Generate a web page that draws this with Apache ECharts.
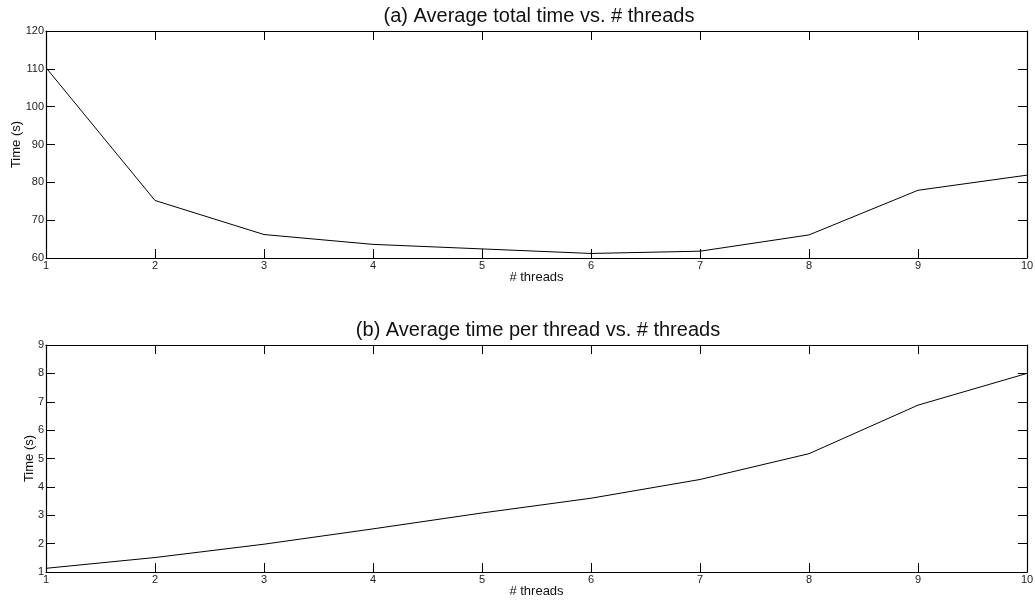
<!DOCTYPE html>
<html>
<head>
<meta charset="utf-8">
<script src="https://cdn.jsdelivr.net/npm/echarts@6/dist/echarts.min.js"></script>
<style>
  html, body { margin: 0; padding: 0; background: #fff; }
  #chart { width: 1035px; height: 600px; }
</style>
</head>
<body>
<div id="chart"></div>
<script>
let threads = [1, 2, 3, 4, 5, 6, 7, 8, 9, 10];
let totalTime = [110.3, 75.2, 66.2, 63.6, 62.4, 61.2, 61.8, 66.1, 77.9, 81.9];
let perThreadTime = [1.13, 1.51, 1.98, 2.52, 3.08, 3.6, 4.26, 5.17, 6.88, 8.0];

let dom = document.getElementById("chart");
let chart = echarts.init(dom);

let font = 'Liberation Sans, Arial, Helvetica, sans-serif';

function pairs(xs, ys) {
    return xs.map(function (x, i) { return [x, ys[i]]; });
}

function bottomAxis(grid) {
    return {
        type: 'value',
        gridIndex: grid,
        min: 1,
        max: 10,
        interval: 1,
        name: '# threads',
        nameLocation: 'middle',
        nameGap: 13,
        nameMoveOverlap: false,
        nameTextStyle: { fontFamily: font, fontSize: 13, color: '#111' },
        axisLine: { lineStyle: { color: '#000', width: 1.2 } },
        axisTick: { inside: true, length: 9, lineStyle: { color: '#000' } },
        axisLabel: { fontFamily: font, fontSize: 11, color: '#222', margin: 2 },
        splitLine: { show: false }
    };
}

function topAxis(grid) {
    return {
        type: 'value',
        gridIndex: grid,
        position: 'top',
        min: 1,
        max: 10,
        interval: 1,
        axisLine: { lineStyle: { color: '#000', width: 1.2 } },
        axisTick: { inside: true, length: 9, lineStyle: { color: '#000' } },
        axisLabel: { show: false },
        splitLine: { show: false }
    };
}

function leftAxis(grid, min, max, step, gap) {
    return {
        type: 'value',
        gridIndex: grid,
        min: min,
        max: max,
        interval: step,
        name: 'Time (s)',
        nameLocation: 'middle',
        nameGap: gap,
        nameMoveOverlap: false,
        nameTextStyle: { fontFamily: font, fontSize: 13, color: '#111' },
        axisLine: { show: true, lineStyle: { color: '#000', width: 1.2 } },
        axisTick: { show: true, inside: true, length: 9, lineStyle: { color: '#000' } },
        axisLabel: { fontFamily: font, fontSize: 11, color: '#222', margin: 2 },
        splitLine: { show: false }
    };
}

function rightAxis(grid, min, max, step) {
    return {
        type: 'value',
        gridIndex: grid,
        position: 'right',
        min: min,
        max: max,
        interval: step,
        axisLine: { show: true, lineStyle: { color: '#000', width: 1.2 } },
        axisTick: { show: true, inside: true, length: 9, lineStyle: { color: '#000' } },
        axisLabel: { show: false },
        splitLine: { show: false }
    };
}

let option = {
    animation: false,
    backgroundColor: '#fff',
    title: [
        {
            text: '(a) Average total time vs. # threads',
            left: 534,
            top: 1,
            textAlign: 'center',
            textStyle: { fontFamily: font, fontSize: 20, fontWeight: 'normal', color: '#111' }
        },
        {
            text: '(b) Average time per thread vs. # threads',
            left: 533,
            top: 315,
            textAlign: 'center',
            textStyle: { fontFamily: font, fontSize: 20, fontWeight: 'normal', color: '#111' }
        }
    ],
    grid: [
        { left: 46, right: 8, top: 31, height: 227, outerBoundsMode: 'none' },
        { left: 46, right: 8, top: 345, height: 227, outerBoundsMode: 'none' }
    ],
    xAxis: [bottomAxis(0), topAxis(0), bottomAxis(1), topAxis(1)],
    yAxis: [
        leftAxis(0, 60, 120, 10, 23),
        rightAxis(0, 60, 120, 10),
        leftAxis(1, 1, 9, 1, 10),
        rightAxis(1, 1, 9, 1)
    ],
    series: [
        {
            name: 'total',
            type: 'line',
            xAxisIndex: 0,
            yAxisIndex: 0,
            showSymbol: false,
            lineStyle: { color: '#000', width: 1 },
            data: pairs(threads, totalTime)
        },
        {
            name: 'per thread',
            type: 'line',
            xAxisIndex: 2,
            yAxisIndex: 2,
            showSymbol: false,
            lineStyle: { color: '#000', width: 1 },
            data: pairs(threads, perThreadTime)
        }
    ]
};

chart.setOption(option);
</script>
</body>
</html>
